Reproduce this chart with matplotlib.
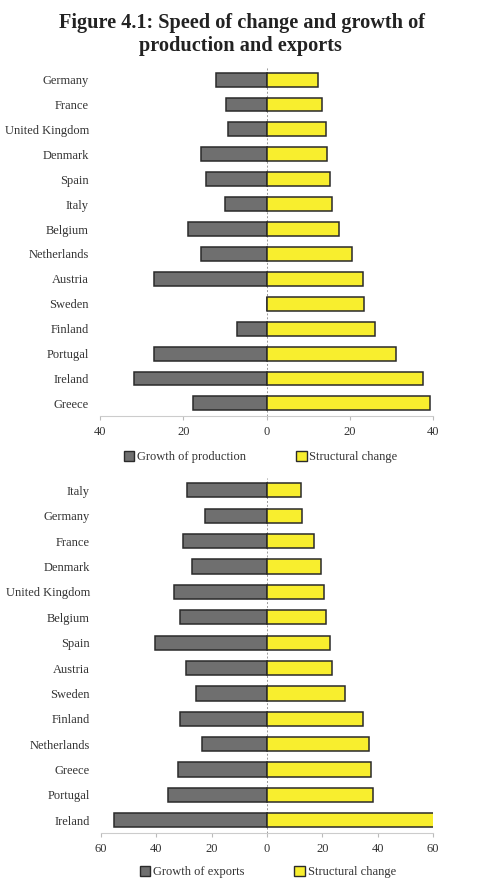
import numpy as np
import matplotlib.pyplot as plt
from matplotlib.patches import Patch

plt.rcParams['font.family'] = ['Liberation Serif', 'DejaVu Serif']

# top panel: production
prod_countries = ['Germany', 'France', 'United Kingdom', 'Denmark', 'Spain', 'Italy', 'Belgium',
                  'Netherlands', 'Austria', 'Sweden', 'Finland', 'Portugal', 'Ireland', 'Greece']
prod_growth = [12.2, 9.7, 9.3, 15.8, 14.5, 9.9, 18.8, 15.8, 27.0, 0.0, 7.0, 26.9, 31.7, 17.7]
prod_struct = [12.3, 13.4, 14.4, 14.6, 15.3, 15.8, 17.3, 20.5, 23.2, 23.5, 26.0, 31.2, 37.5, 39.2]

# bottom panel: exports
exp_countries = ['Italy', 'Germany', 'France', 'Denmark', 'United Kingdom', 'Belgium', 'Spain',
                 'Austria', 'Sweden', 'Finland', 'Netherlands', 'Greece', 'Portugal', 'Ireland']
exp_growth = [28.9, 22.4, 30.4, 27.2, 33.6, 31.4, 40.4, 29.2, 25.7, 31.5, 23.4, 32.0, 35.7, 55.1]
exp_struct = [12.2, 12.5, 17.1, 19.4, 20.6, 21.2, 22.9, 23.6, 28.2, 34.8, 36.9, 37.5, 38.3, 60.5]

grey = '#6f6f6f'
yellow = '#f8ee2e'
edge = '#2a2a2a'
txt = '#333333'

fig = plt.figure(figsize=(4.85, 8.83), dpi=100)
fig.text(0.5, 0.974, 'Figure 4.1: Speed of change and growth of', ha='center', va='center',
         fontsize=14.6, fontweight='bold', color='#222222')
fig.text(0.496, 0.948, 'production and exports', ha='center', va='center',
         fontsize=14.6, fontweight='bold', color='#222222')


def panel(rect, countries, growth, struct, lim, ticks, label, leg_x, leg_y):
    ax = fig.add_axes(rect)
    y = np.arange(len(countries))
    ax.barh(y, -np.array(growth), height=0.56, color=grey, edgecolor=edge, linewidth=1.1)
    ax.barh(y, struct, height=0.56, color=yellow, edgecolor=edge, linewidth=1.1)
    ax.set_ylim(len(countries) - 0.5, -0.5)
    ax.set_xlim(-lim, lim)
    ax.set_yticks(y)
    ax.set_yticklabels(countries, fontsize=9, color=txt)
    ax.set_xticks(ticks)
    ax.set_xticklabels([str(abs(t)) for t in ticks], fontsize=9, color=txt)
    ax.tick_params(axis='y', length=0, pad=8)
    ax.tick_params(axis='x', length=3, color='#bbbbbb', pad=4)
    for s in ['top', 'right', 'left']:
        ax.spines[s].set_visible(False)
    ax.spines['bottom'].set_color('#cccccc')
    ax.axvline(0, color='#999999', linewidth=0.7, linestyle=(0, (2, 2)), zorder=0)
    handles = [Patch(facecolor=grey, edgecolor=edge, label=label),
               Patch(facecolor=yellow, edgecolor=edge, label='Structural change')]
    fig.legend(handles=handles, loc='center', bbox_to_anchor=(leg_x, leg_y), ncol=2,
               frameon=False, fontsize=9, handlelength=0.85, handleheight=0.85,
               handletextpad=0.2, columnspacing=4.0, labelcolor=txt)
    return ax


panel([0.206, 0.529, 0.687, 0.395], prod_countries, prod_growth, prod_struct,
      40, [-40, -20, 0, 20, 40], 'Growth of production', 0.537, 0.4825)
panel([0.208, 0.0566, 0.685, 0.4024], exp_countries, exp_growth, exp_struct,
      60, [-60, -40, -20, 0, 20, 40, 60], 'Growth of exports', 0.552, 0.0125)

fig.savefig('out.png', dpi=100)
